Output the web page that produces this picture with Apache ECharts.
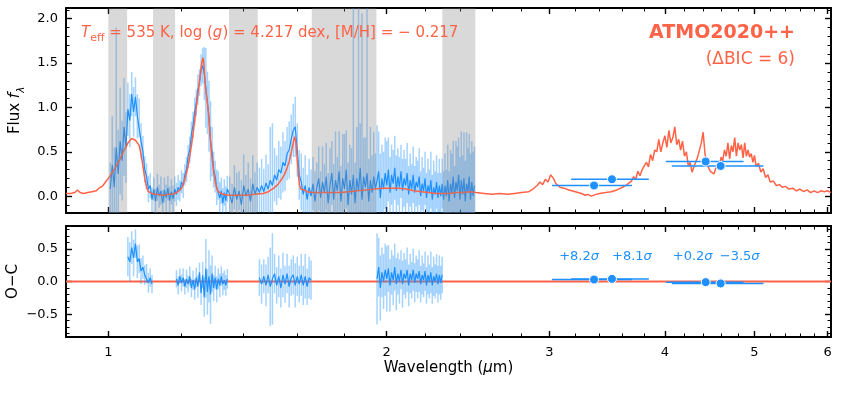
<!DOCTYPE html>
<html>
<head>
<meta charset="utf-8">
<script src="https://cdn.jsdelivr.net/npm/echarts@6/dist/echarts.min.js"></script>
<style>
  html, body { margin: 0; padding: 0; background: #fff; }
  #chart { width: 844px; height: 394px; }
</style>
</head>
<body>
<div id="chart"></div>
<script>
// ---- observed spectrum (flux, 1 sigma error, residual O-C; null = masked band) ----
const wave = [
  1.005,1.010,1.015,1.020,1.025,1.030,1.035,1.040,1.045,
  1.050,1.055,1.060,1.065,1.070,1.075,1.080,1.085,1.090,1.095,1.100,1.105,1.110,1.115,
  1.120,1.125,1.130,1.135,1.140,1.145,1.150,1.155,1.160,1.165,1.170,1.175,1.180,
  1.185,1.190,1.195,1.200,1.205,1.210,1.215,1.220,1.225,1.230,1.235,1.240,1.245,1.250,1.255,1.260,1.265,1.270,1.275,1.280,1.285,1.290,1.295,1.300,1.305,1.310,1.315,1.320,1.325,1.330,1.335,1.340,1.345,
  1.353,1.361,1.369,1.377,1.385,1.393,1.401,1.409,1.417,1.425,1.433,1.441,1.449,
  1.457,1.465,1.473,1.481,1.489,1.497,1.505,1.513,1.521,1.529,1.537,1.545,1.553,1.561,1.569,1.577,1.585,1.593,1.601,1.609,1.617,1.625,1.633,1.641,1.649,1.657,
  1.665,1.673,1.681,1.689,1.697,1.705,1.713,1.721,1.729,1.737,1.745,1.753,1.761,1.769,1.777,1.785,1.793,1.801,1.809,1.817,1.825,1.833,1.841,1.849,1.857,1.865,1.873,1.881,1.889,1.897,1.905,1.913,1.921,1.929,1.937,1.945,
  1.953,1.961,1.969,1.977,1.985,1.993,2.001,2.009,2.017,2.025,2.033,2.041,2.049,2.057,2.065,2.073,2.081,2.089,2.097,2.105,2.113,2.121,2.129,2.137,2.145,2.153,2.161,2.169,2.177,2.185,2.193,2.201,2.209,2.217,2.225,2.233,2.241,2.249,2.257,2.265,2.273,2.281,2.289,2.297,
  2.305,2.313,2.321,2.329,2.337,2.345,2.353,2.361,2.369,2.377,2.385,2.393,2.401,2.409,2.417,2.425,2.433,2.441,2.449,2.457,2.465,2.473,2.481,2.489
];
const flux = [
  0.08,0.35,0.10,0.55,0.25,0.62,0.40,0.78,0.55,
  0.98,0.85,1.15,0.95,1.12,0.90,0.88,0.62,0.50,0.30,0.22,0.08,0.12,-0.04,
  0.08,-0.06,0.10,0.00,0.06,-0.08,0.07,-0.02,0.09,-0.05,0.05,-0.03,0.08,
  0.02,0.10,0.06,0.16,0.12,0.24,0.30,0.45,0.52,0.70,0.80,0.95,1.05,1.20,1.28,1.42,1.47,1.38,1.22,1.05,0.90,0.62,0.50,0.30,0.22,0.10,0.12,-0.02,0.06,-0.08,0.04,-0.05,0.08,
  0.02,-0.08,0.10,-0.04,0.06,-0.10,0.12,0.00,0.08,-0.06,0.14,0.02,0.10,
  0.04,0.12,0.05,0.15,0.08,0.18,0.12,0.24,0.18,0.30,0.26,0.38,0.34,0.48,0.52,0.64,0.74,0.78,0.52,0.24,0.16,0.02,0.12,-0.04,0.10,0.00,
  0.14,-0.06,0.10,0.20,-0.02,0.16,0.04,0.22,-0.08,0.12,0.26,-0.04,0.18,0.06,0.28,-0.06,0.20,0.08,0.30,-0.10,0.18,0.02,0.24,-0.08,0.20,0.06,0.32,-0.04,0.22,0.10,0.26,-0.06,0.18,0.04,0.22,0.08,
  0.10,0.28,-0.02,0.20,0.08,0.26,0.12,0.30,0.04,0.24,0.14,0.32,0.06,0.22,0.10,0.28,0.06,0.20,0.12,0.26,0.02,0.18,0.08,0.24,0.04,0.16,0.10,0.22,0.00,0.14,0.06,0.20,-0.02,0.12,0.04,0.18,-0.04,0.10,0.02,0.16,-0.02,0.12,0.00,0.14,
  -0.04,0.12,0.00,0.18,-0.06,0.14,0.04,0.22,-0.02,0.16,0.06,0.24,-0.04,0.18,0.02,0.20,-0.06,0.14,0.04,0.22,-0.04,0.16,0.00,0.12
];
const fluxErr = [
  0.30,0.55,0.45,1.35,0.50,0.60,0.45,0.55,0.40,
  0.30,0.30,0.25,0.28,0.22,0.25,0.22,0.20,0.18,0.15,0.15,0.15,0.14,0.14,
  0.13,0.14,0.15,0.13,0.16,0.15,0.14,0.15,0.14,0.16,0.14,0.15,0.14,
  0.13,0.14,0.12,0.13,0.14,0.12,0.14,0.13,0.15,0.14,0.15,0.16,0.15,0.17,0.15,0.18,0.20,0.30,0.45,0.35,0.40,0.45,0.28,0.20,0.18,0.20,0.16,0.18,0.15,0.17,0.15,0.16,0.15,
  0.20,0.22,0.25,0.30,0.22,0.28,0.35,0.24,0.30,0.26,0.32,0.25,0.28,
  0.28,0.30,0.26,0.32,0.28,0.60,0.70,0.30,0.28,0.32,0.30,0.34,0.28,0.30,0.32,0.28,0.30,0.34,0.30,0.28,0.32,0.30,0.34,0.28,0.32,0.30,
  0.30,0.34,0.28,0.36,0.30,0.40,0.32,0.38,0.34,0.42,0.36,0.40,0.55,0.38,0.45,0.40,0.50,0.62,0.44,0.48,0.40,0.52,2.20,0.46,0.58,2.30,0.50,2.10,0.44,0.56,2.20,0.48,0.60,0.42,0.50,0.40,
  0.70,0.45,0.50,0.38,0.42,0.40,0.50,0.36,0.40,0.34,0.38,0.36,0.40,0.32,0.34,0.30,0.36,0.32,0.30,0.34,0.32,0.30,0.28,0.32,0.30,0.28,0.30,0.32,0.28,0.30,0.26,0.30,0.28,0.30,0.26,0.32,0.28,0.30,0.26,0.30,0.28,0.30,0.26,0.28,
  0.32,0.36,0.30,0.40,0.34,0.38,0.44,0.40,0.36,0.46,0.50,0.42,0.48,0.55,0.44,0.52,0.46,0.58,0.50,0.48,0.52,0.46,0.50,0.44
];
const resid = [
  null,null,null,null,null,null,null,null,null,
  0.38,0.30,0.52,0.36,0.58,0.30,0.35,0.16,0.22,0.10,0.12,-0.02,0.06,-0.04,
  null,null,null,null,null,null,null,null,null,null,null,null,null,
  0.04,-0.06,0.08,-0.02,0.06,-0.08,0.04,-0.04,0.08,-0.10,0.02,-0.12,0.06,-0.08,0.14,-0.18,0.10,-0.24,0.20,-0.16,0.08,-0.20,0.12,-0.10,0.06,-0.12,0.04,-0.06,0.08,-0.04,0.02,-0.06,0.04,
  null,null,null,null,null,null,null,null,null,null,null,null,null,
  0.06,-0.04,0.08,-0.06,0.10,-0.08,0.04,0.12,-0.06,0.08,-0.10,0.10,-0.04,0.12,-0.08,0.06,0.10,-0.06,0.08,-0.04,0.10,-0.06,0.08,-0.08,0.06,0.02,
  null,null,null,null,null,null,null,null,null,null,null,null,null,null,null,null,null,null,
  null,null,null,null,null,null,null,null,null,null,null,null,null,null,null,null,null,null,
  0.04,0.22,-0.10,0.14,0.00,0.18,0.04,0.20,-0.06,0.14,0.02,0.22,-0.04,0.12,0.00,0.18,-0.04,0.12,0.04,0.18,-0.06,0.12,0.02,0.18,-0.02,0.12,0.04,0.16,-0.04,0.10,0.02,0.16,-0.06,0.10,0.00,0.14,-0.06,0.08,0.00,0.12,-0.04,0.10,-0.02,0.10,
  null,null,null,null,null,null,null,null,null,null,null,null,
  null,null,null,null,null,null,null,null,null,null,null,null
];

// ---- ATMO2020++ model ----
const modelWave = [
  0.900,0.910,0.920,0.926,0.932,0.940,0.950,0.960,0.970,0.975,0.980,0.985,0.990,0.995,
  1.000,1.005,1.010,1.015,1.020,1.025,1.030,1.035,1.040,1.045,1.050,1.055,1.060,1.065,1.070,1.075,1.080,1.085,1.090,1.095,1.100,1.105,1.110,
  1.120,1.130,1.140,1.150,1.160,1.170,1.180,1.190,1.200,1.205,1.210,1.215,1.220,1.225,1.230,1.235,1.240,1.245,1.250,1.255,1.260,1.263,1.266,1.269,1.272,1.276,1.280,1.283,1.286,1.290,1.295,1.300,1.305,1.310,1.315,1.320,1.330,
  1.350,1.380,1.410,1.440,1.470,1.490,1.510,1.525,1.540,1.550,1.560,1.570,1.578,1.585,1.590,1.595,1.600,1.605,1.610,1.615,1.620,1.630,1.640,1.660,
  1.700,1.740,1.780,1.820,1.860,1.900,1.940,1.980,2.020,2.060,2.100,2.140,2.180,2.220,2.260,2.300,2.340,2.380,2.420,2.460,2.500,
  2.550,2.600,2.650,2.700,2.750,2.800,2.850,2.880,2.910,2.930,2.950,2.970,2.990,3.010,3.030,3.050,3.080,3.110,3.150,3.200,3.250,3.280,3.300,3.330,3.370,3.400,3.450,3.500,3.550,3.600,3.640,3.680,
  3.700,3.720,3.740,3.760,3.780,3.800,3.820,3.840,3.860,3.880,3.900,3.920,3.940,3.960,3.980,4.000,4.020,4.040,4.060,4.080,4.100,4.120,4.140,4.160,4.180,4.200,4.220,4.240,4.260,4.280,4.300,4.320,4.340,4.360,4.380,4.400,4.420,4.440,4.460,4.480,4.500,
  4.520,4.540,4.560,4.580,4.600,4.620,4.640,4.660,4.680,4.700,4.720,4.740,4.760,4.780,4.800,4.820,4.840,4.860,4.880,4.900,4.920,4.940,4.960,4.980,5.000,5.020,5.050,5.080,5.110,5.140,5.170,5.200,5.240,5.280,5.320,5.360,5.400,5.450,5.500,5.550,5.600,5.650,5.700,5.750,5.800,5.850,5.900,5.950,6.000,6.050
];
const modelFlux = [
  0.03,0.03,0.04,0.07,0.04,0.03,0.04,0.05,0.06,0.08,0.10,0.11,0.14,0.17,
  0.20,0.23,0.27,0.30,0.34,0.38,0.42,0.47,0.52,0.55,0.60,0.62,0.65,0.64,0.63,0.60,0.57,0.47,0.34,0.20,0.10,0.05,0.03,
  0.02,0.02,0.01,0.01,0.02,0.02,0.03,0.05,0.09,0.13,0.19,0.26,0.34,0.45,0.57,0.70,0.85,1.00,1.15,1.30,1.45,1.52,1.56,1.48,1.30,1.15,1.05,0.95,0.80,0.62,0.42,0.28,0.16,0.09,0.05,0.03,0.02,
  0.01,0.01,0.01,0.02,0.03,0.05,0.09,0.13,0.19,0.24,0.31,0.40,0.50,0.60,0.67,0.62,0.45,0.26,0.12,0.08,0.06,0.07,0.05,0.04,
  0.04,0.04,0.04,0.05,0.06,0.07,0.08,0.09,0.09,0.09,0.08,0.06,0.05,0.04,0.03,0.03,0.03,0.04,0.04,0.05,0.04,
  0.03,0.02,0.03,0.02,0.03,0.04,0.05,0.08,0.12,0.16,0.13,0.19,0.16,0.24,0.20,0.14,0.10,0.09,0.07,0.05,0.03,0.01,0.02,0.00,0.02,0.03,0.04,0.05,0.07,0.10,0.13,0.17,
  0.22,0.19,0.28,0.23,0.30,0.34,0.38,0.33,0.47,0.40,0.52,0.50,0.64,0.50,0.60,0.68,0.55,0.74,0.60,0.66,0.78,0.58,0.64,0.52,0.62,0.45,0.50,0.34,0.38,0.27,0.33,0.31,0.44,0.42,0.60,0.72,0.48,0.36,0.32,0.28,0.30,
  0.25,0.31,0.34,0.30,0.44,0.40,0.52,0.45,0.60,0.42,0.57,0.50,0.66,0.45,0.60,0.52,0.58,0.43,0.60,0.45,0.52,0.44,0.48,0.38,0.46,0.34,0.37,0.27,0.31,0.21,0.24,0.16,0.17,0.12,0.13,0.10,0.11,0.08,0.09,0.06,0.08,0.05,0.07,0.04,0.06,0.04,0.06,0.05,0.06,0.04
];

// ---- photometry ----
const photWave = [3.353, 3.506, 4.428, 4.596];
const photLo = [3.02, 3.167, 4.009, 4.070];
const photHi = [3.685, 3.843, 4.866, 5.113];
const photFlux = [0.12, 0.19, 0.39, 0.34];
const photResid = [0.03, 0.04, -0.01, -0.03];
const photSigma = ["+8.2", "+8.1", "+0.2", "\u22123.5"];

// ---- masked (telluric) regions ----
const bandStart = [1.0, 1.118, 1.351, 1.660, 2.298];
const bandEnd = [1.048, 1.181, 1.451, 1.950, 2.495];

// ---- ticks ----
const xMin = 0.9, xMax = 6.05;
const xMajor = [1, 2, 3, 4, 5, 6];
const xMinor = [1.2, 1.4, 1.6, 1.8, 2.2, 2.4, 2.6, 2.8, 3.2, 3.4, 3.6, 3.8, 4.2, 4.4, 4.6, 4.8, 5.2, 5.4, 5.6, 5.8];
const yTopMajor = [0, 0.5, 1.0, 1.5, 2.0];
const yTopMinor = [-0.1, 0.1, 0.2, 0.3, 0.4, 0.6, 0.7, 0.8, 0.9, 1.1, 1.2, 1.3, 1.4, 1.6, 1.7, 1.8, 1.9, 2.1];
const yBotMajor = [-0.5, 0, 0.5];
const yBotMinor = [-0.8, -0.7, -0.6, -0.4, -0.3, -0.2, -0.1, 0.1, 0.2, 0.3, 0.4, 0.6, 0.7, 0.8];

const FONT = "DejaVu Sans";
const BLUE = "#1E90FF";
const BLUE_LIGHT = "rgba(30,144,255,0.4)";
const RED = "#FF6347";

const chart = echarts.init(document.getElementById("chart"));

function xAxes(gridIndex) {
  const list = [];
  ["bottom", "top"].forEach(pos => {
    [xMajor, xMinor].forEach((vals, k) => {
      list.push({
        type: "log",
        logBase: 10,
        gridIndex: gridIndex,
        position: pos,
        min: xMin,
        max: xMax,
        axisLine: { show: k === 0, onZero: false, lineStyle: { color: "#000", width: 2 } },
        axisTick: {
          show: true, inside: true, length: k === 0 ? 6 : 3.5, customValues: vals,
          lineStyle: { color: "#000", width: k === 0 ? 1.4 : 1 }
        },
        axisLabel: { show: false },
        splitLine: { show: false }
      });
    });
  });
  return list;
}

function yAxes(gridIndex, min, max, major, minor) {
  const list = [];
  ["left", "right"].forEach(pos => {
    [major, minor].forEach((vals, k) => {
      list.push({
        type: "value",
        gridIndex: gridIndex,
        position: pos,
        min: min,
        max: max,
        axisLine: { show: k === 0, onZero: false, lineStyle: { color: "#000", width: 2 } },
        axisTick: {
          show: true, inside: true, length: k === 0 ? 6 : 3.5, customValues: vals,
          lineStyle: { color: "#000", width: k === 0 ? 1.4 : 1 }
        },
        axisLabel: { show: false },
        splitLine: { show: false }
      });
    });
  });
  return list;
}

const xAxisList = xAxes(0).concat(xAxes(1));
xAxisList[4].axisLabel = {
  show: true, customValues: xMajor, margin: 9, color: "#000", fontSize: 13, fontFamily: FONT,
  formatter: v => String(Math.round(v))
};
xAxisList[4].name = "{a|Wavelength (}{i|\u03bc}{a|m)}";
xAxisList[4].nameLocation = "middle";
xAxisList[4].nameGap = 24;
xAxisList[4].nameMoveOverlap = false;
xAxisList[4].nameTextStyle = {
  rich: {
    a: { fontSize: 15, fontFamily: FONT, color: "#000" },
    i: { fontSize: 15, fontFamily: FONT, fontStyle: "italic", color: "#000" }
  }
};

const yAxisList = yAxes(0, -0.19, 2.12, yTopMajor, yTopMinor)
  .concat(yAxes(1, -0.85, 0.85, yBotMajor, yBotMinor));
const yLabel = {
  show: true, margin: 8, color: "#000", fontSize: 13, fontFamily: FONT,
  formatter: v => v.toFixed(1).replace("-", "\u2212")
};
yAxisList[0].axisLabel = Object.assign({ customValues: yTopMajor }, yLabel);
yAxisList[0].name = "{a|Flux }{i|f}{s|\u03bb}";
yAxisList[0].nameLocation = "middle";
yAxisList[0].nameRotate = 90;
yAxisList[0].nameGap = 40;
yAxisList[0].nameMoveOverlap = false;
yAxisList[0].nameTextStyle = {
  rich: {
    a: { fontSize: 15, fontFamily: FONT, color: "#000", lineHeight: 22 },
    i: { fontSize: 15, fontFamily: FONT, fontStyle: "italic", color: "#000", lineHeight: 22 },
    s: { fontSize: 10, fontFamily: FONT, fontStyle: "italic", color: "#000", lineHeight: 10, verticalAlign: "bottom" }
  }
};
yAxisList[4].axisLabel = Object.assign({ customValues: yBotMajor }, yLabel);
yAxisList[4].name = "O\u2212C";
yAxisList[4].nameLocation = "middle";
yAxisList[4].nameRotate = 90;
yAxisList[4].nameGap = 45;
yAxisList[4].nameMoveOverlap = false;
yAxisList[4].nameTextStyle = { fontSize: 15, fontFamily: FONT, color: "#000" };

function vBar(color, width) {
  return function (params, api) {
    const cs = params.coordSys;
    const x = api.value(0);
    const lo = api.coord([x, api.value(1)]);
    const hi = api.coord([x, api.value(2)]);
    const clampY = y => Math.max(cs.y, Math.min(cs.y + cs.height, y));
    return {
      type: "line",
      shape: { x1: lo[0], y1: clampY(lo[1]), x2: hi[0], y2: clampY(hi[1]) },
      style: { stroke: color, lineWidth: width }
    };
  };
}

function hBar(params, api) {
  const a = api.coord([api.value(0), api.value(2)]);
  const b = api.coord([api.value(1), api.value(2)]);
  return {
    type: "line",
    shape: { x1: a[0], y1: a[1], x2: b[0], y2: b[1] },
    style: { stroke: BLUE, lineWidth: 1.5 }
  };
}

function bandRect(params, api) {
  const cs = params.coordSys;
  const a = api.coord([api.value(0), 0]);
  const b = api.coord([api.value(1), 0]);
  return {
    type: "rect",
    shape: { x: a[0], y: cs.y, width: b[0] - a[0], height: cs.height },
    style: { fill: "rgba(128,128,128,0.3)" }
  };
}

const fluxData = wave.map((w, i) => [w, flux[i]]);
const fluxErrData = wave.map((w, i) => [w, flux[i] - fluxErr[i], flux[i] + fluxErr[i]]);
const residData = wave.map((w, i) => [w, resid[i]]);
const residErrData = wave
  .map((w, i) => (resid[i] === null ? null : [w, resid[i] - fluxErr[i], resid[i] + fluxErr[i]]))
  .filter(d => d !== null);
const modelData = modelWave.map((w, i) => [w, modelFlux[i]]);
const sigmaOffset = [[-15, -23], [20, -22], [-13, -26], [19, -27]];

chart.setOption({
  animation: false,
  textStyle: { fontFamily: FONT },
  grid: [
    { left: 66, right: 13, top: 8, height: 205, containLabel: false, outerBoundsMode: "none" },
    { left: 66, right: 13, top: 226, height: 111, containLabel: false, outerBoundsMode: "none" }
  ],
  xAxis: xAxisList,
  yAxis: yAxisList,
  graphic: [
    {
      type: "text", x: 81, y: 33, z: 100,
      style: {
        text: "{i|T}{s|eff}{a| = 535 K, log (}{i|g}{a|) = 4.217 dex, [M/H] = \u2212 0.217}",
        verticalAlign: "middle",
        rich: {
          a: { fontSize: 15, fontFamily: FONT, fill: RED, lineHeight: 22 },
          i: { fontSize: 15, fontFamily: FONT, fontStyle: "italic", fill: RED, lineHeight: 22 },
          s: { fontSize: 11, fontFamily: FONT, fill: RED, lineHeight: 11, verticalAlign: "bottom" }
        }
      }
    },
    {
      type: "text", x: 795, y: 33, z: 100,
      style: { text: "ATMO2020++", align: "right", verticalAlign: "middle", fill: RED, fontSize: 19, fontWeight: "bold", fontFamily: FONT }
    },
    {
      type: "text", x: 795, y: 60, z: 100,
      style: { text: "(\u0394BIC = 6)", align: "right", verticalAlign: "middle", fill: RED, fontSize: 17, fontFamily: FONT }
    }
  ],
  series: [
    // top panel
    {
      type: "custom", xAxisIndex: 0, yAxisIndex: 0, z: 2, silent: true,
      renderItem: vBar(BLUE_LIGHT, 1.5), encode: { x: 0, y: [1, 2] }, data: fluxErrData
    },
    {
      type: "line", xAxisIndex: 0, yAxisIndex: 0, z: 3, silent: true, symbol: "none",
      lineStyle: { color: BLUE, width: 1.2 }, data: fluxData
    },
    {
      type: "line", xAxisIndex: 0, yAxisIndex: 0, z: 4, silent: true, symbol: "none",
      lineStyle: { color: RED, width: 1.5 }, data: modelData
    },
    {
      type: "custom", xAxisIndex: 0, yAxisIndex: 0, z: 5, silent: true,
      renderItem: hBar, encode: { x: [0, 1], y: 2 },
      data: photWave.map((w, i) => [photLo[i], photHi[i], photFlux[i]])
    },
    {
      type: "scatter", xAxisIndex: 0, yAxisIndex: 0, z: 6, silent: true, symbolSize: 9,
      itemStyle: { color: BLUE, borderColor: "#fff", borderWidth: 1, opacity: 1 },
      data: photWave.map((w, i) => [w, photFlux[i]])
    },
    {
      type: "custom", xAxisIndex: 0, yAxisIndex: 0, z: 7, silent: true,
      renderItem: bandRect, encode: { x: [0, 1], y: 2 },
      data: bandStart.map((s, i) => [s, bandEnd[i], 0])
    },
    // bottom panel (O-C)
    {
      type: "line", xAxisIndex: 4, yAxisIndex: 4, z: 1, silent: true, symbol: "none",
      lineStyle: { color: RED, width: 2 }, data: [[xMin, 0], [xMax, 0]]
    },
    {
      type: "custom", xAxisIndex: 4, yAxisIndex: 4, z: 2, silent: true,
      renderItem: vBar(BLUE_LIGHT, 1.5), encode: { x: 0, y: [1, 2] }, data: residErrData
    },
    {
      type: "line", xAxisIndex: 4, yAxisIndex: 4, z: 3, silent: true, symbol: "none",
      connectNulls: false, lineStyle: { color: BLUE, width: 1.2 }, data: residData
    },
    {
      type: "custom", xAxisIndex: 4, yAxisIndex: 4, z: 5, silent: true,
      renderItem: hBar, encode: { x: [0, 1], y: 2 },
      data: photWave.map((w, i) => [photLo[i], photHi[i], photResid[i]])
    },
    {
      type: "scatter", xAxisIndex: 4, yAxisIndex: 4, z: 6, silent: true, symbolSize: 9,
      itemStyle: { color: BLUE, borderColor: "#fff", borderWidth: 1, opacity: 1 },
      data: photWave.map((w, i) => ({
        value: [w, photResid[i]],
        label: {
          show: true, position: "inside", offset: sigmaOffset[i],
          formatter: "{a|" + photSigma[i] + "}{i|\u03c3}",
          rich: {
            a: { fontSize: 13, fontFamily: FONT, color: BLUE },
            i: { fontSize: 13, fontFamily: FONT, fontStyle: "italic", color: BLUE }
          }
        }
      }))
    }
  ]
});
</script>
</body>
</html>
